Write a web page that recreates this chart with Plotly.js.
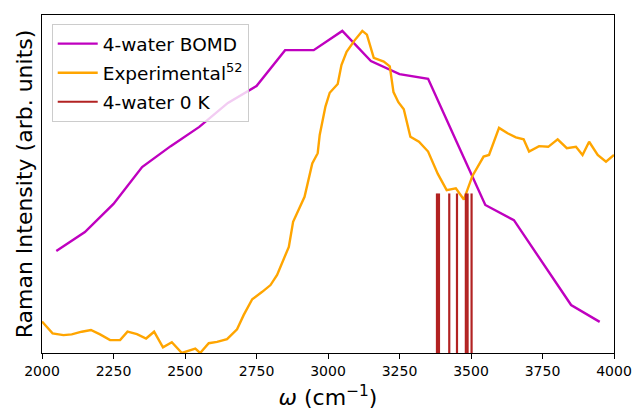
<!DOCTYPE html>
<html>
<head>
<meta charset="utf-8">
<script src="https://cdn.plot.ly/plotly-3.0.1.min.js"></script>
<style>html,body{margin:0;padding:0;background:#fff;}#chart{width:634px;height:410px;}</style>
</head>
<body>
<div id="chart"></div>
<script>
// 4-water BOMD spectrum
const bomdX = [2050, 2150, 2250, 2350, 2450, 2550, 2650, 2750, 2850, 2950, 3050, 3150, 3250, 3350, 3450, 3550, 3650, 3750, 3850, 3950];
const bomdY = [30.2, 35.8, 44.1, 55.0, 61.2, 66.9, 74.0, 79.0, 89.6, 89.6, 95.3, 86.4, 82.5, 81.1, 62.4, 43.8, 39.3, 26.9, 14.2, 9.2];

// Experimental spectrum (ref. 52)
const expX = [2000, 2037, 2075, 2104, 2139, 2171, 2203, 2238, 2273, 2299, 2332, 2364, 2392, 2423, 2454, 2489, 2536, 2553, 2583, 2612,
  2647, 2682, 2705, 2735, 2770, 2799, 2822, 2845, 2863, 2878, 2892, 2918, 2945, 2964, 2971, 2991, 3006, 3034, 3047, 3065,
  3093, 3120, 3136, 3160, 3195, 3216, 3229, 3246, 3265, 3288, 3318, 3350, 3384, 3415, 3447, 3475, 3505, 3544, 3563, 3598,
  3628, 3657, 3684, 3703, 3738, 3770, 3803, 3835, 3867, 3890, 3913, 3943, 3972, 4000];
const expY = [9.3, 5.8, 5.3, 5.5, 6.3, 6.8, 5.5, 3.8, 3.8, 6.3, 5.6, 4.3, 6.3, 1.7, 3.2, 0.0, 1.3, 0.0, 2.9, 3.3,
  4.1, 7.0, 11.2, 15.9, 18.1, 20.1, 23.1, 27.5, 31.4, 38.8, 41.3, 46.2, 56.1, 59.1, 64.5, 72.9, 77.0, 79.6, 85.2, 89.1,
  92.5, 95.3, 94.2, 87.3, 86.2, 84.8, 77.2, 74.2, 72.1, 64.0, 62.5, 59.6, 53.0, 48.2, 48.7, 45.4, 52.4, 58.1, 58.6, 66.6,
  65.0, 63.8, 63.2, 59.6, 61.2, 61.0, 63.2, 60.6, 61.0, 58.6, 62.5, 58.6, 56.6, 58.6];

// 4-water 0 K stick frequencies
const stickX = [3381, 3388, 3424, 3451, 3482, 3488, 3502];
const stickY = [47.2, 47.2, 47.2, 47.2, 47.2, 47.2, 47.2];

const tickVals = [2000, 2250, 2500, 2750, 3000, 3250, 3500, 3750, 4000];

// build stick segments
const sx = [], sy = [];
stickX.forEach((x, i) => { sx.push(x, x, null); sy.push(0, stickY[i], null); });

const traces = [
  {x: bomdX, y: bomdY, mode: 'lines', name: '4-water BOMD', legendgroup: 'a', line: {color: '#bf00bf', width: 2.4}},
  {x: expX, y: expY, mode: 'lines', name: 'Experimental<sup>52</sup>', legendgroup: 'b', line: {color: '#ffa500', width: 2.4}},
  {x: sx, y: sy, mode: 'lines', name: '4-water 0 K', legendgroup: 'c', line: {color: '#b22222', width: 2.2}, connectgaps: false}
];

const layout = {
  width: 634, height: 410,
  margin: {l: 42, r: 20, t: 15, b: 57},
  paper_bgcolor: '#fff', plot_bgcolor: '#fff',
  font: {family: 'DejaVu Sans, sans-serif', color: '#000'},
  showlegend: true,
  legend: {
    x: 0.017, y: 0.973, xanchor: 'left', yanchor: 'top',
    bgcolor: 'rgba(255,255,255,0.8)', bordercolor: '#cccccc', borderwidth: 1,
    font: {size: 18.5, color: '#000'}, tracegroupgap: 2, itemwidth: 40
  },
  xaxis: {
    range: [2000, 4000], tickvals: tickVals, ticktext: tickVals.map(String),
    ticks: 'outside', ticklen: 5, tickwidth: 1, tickcolor: '#000',
    showline: true, linecolor: '#000', linewidth: 1, mirror: true,
    showgrid: false, zeroline: false,
    tickfont: {size: 14, color: '#000'},
    title: {text: '<i>ω</i> (cm<sup>−1</sup>)', font: {size: 22, color: '#000'}, standoff: 13}
  },
  yaxis: {
    range: [0, 100], showticklabels: false, ticks: '',
    showline: true, linecolor: '#000', linewidth: 1, mirror: true,
    showgrid: false, zeroline: false,
    title: {text: 'Raman Intensity (arb. units)', font: {size: 22, color: '#000'}, standoff: 2}
  }
};

Plotly.newPlot('chart', traces, layout, {displayModeBar: false, staticPlot: true});
</script>
</body>
</html>
